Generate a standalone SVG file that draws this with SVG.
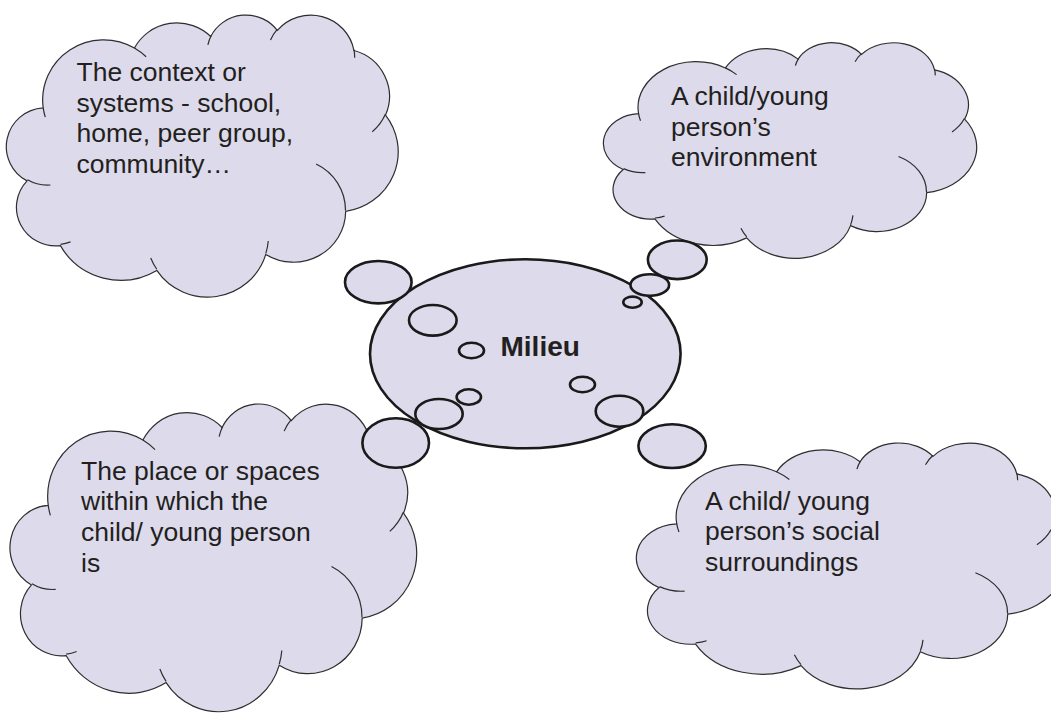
<svg xmlns="http://www.w3.org/2000/svg" xmlns:xlink="http://www.w3.org/1999/xlink" width="1051" height="713" viewBox="0 0 1051 713">
<style>
.cloud { fill:#dcdaeb; stroke:#2e2e2e; stroke-width:1.2; }
.crease { fill:none; stroke:#2e2e2e; stroke-width:1.2; }
.bub { fill:#dcdaeb; stroke:#1a1a1a; stroke-width:2.6; }
.txt { font-family:"Liberation Sans", Arial, Helvetica, sans-serif; font-size:26.5px; fill:#231f20; }
.title { font-family:"Liberation Sans", Arial, Helvetica, sans-serif; font-size:28px; font-weight:bold; fill:#231f20; }
</style>
<defs>
<path id="cloudOutline" vector-effect="non-scaling-stroke" d="M39 143.7 A67.53 91.9 0 0 1 140.05 52.02 A53.33 72.67 0 0 1 224.56 34.35 A43.65 59.45 0 0 1 298.33 24.83 A48.57 65.95 0 0 1 383.18 55.78 A53.33 72.73 0 0 1 418.18 154.61 A67.75 92.2 0 0 1 374.04 302.06 A57.85 78.67 0 0 1 285.55 368.16 A67.52 92.15 0 0 1 164.8 392.68 A77.2 105.43 0 0 1 58.03 354.71 A43.6 59.18 0 0 1 21.12 255.49 A43.45 59.45 0 0 1 39 143.7 Z"/>
<path id="cloudCreases" vector-effect="non-scaling-stroke" d="M46.93 261.77 A43.45 59.45 0 0 1 21.6 253.8 M69.28 348.99 A43.6 59.18 0 0 1 58.19 352.8 M164.78 390.9 A67.52 92.15 0 0 1 158.1 373.49 M288.27 347.51 A67.52 92.15 0 0 1 285.6 366.6 M341.29 229.54 A57.85 78.67 0 0 1 373.81 300.9 M417.98 153.54 A53.33 72.73 0 0 1 403.51 180.3 M383.24 54.26 A48.57 65.95 0 0 1 384 66.9 M290.78 39.52 A48.57 65.95 0 0 1 298.2 23.4 M221.41 47.2 A43.65 59.45 0 0 1 225.01 33.31 M140 51.92 A67.53 91.9 0 0 1 153.01 65.42 M41.27 157.89 A67.53 91.9 0 0 1 39 143.71"/>
</defs>

<g id="cloud-context">
<g transform="translate(8,14.1) scale(0.9028,0.6528)">
<use href="#cloudOutline" class="cloud"/>
<use href="#cloudCreases" class="crease"/>
</g>
<text class="txt"><tspan x="76.5" y="81">The context or</tspan><tspan x="76.5" y="111.5">systems - school,</tspan><tspan x="76.5" y="142">home, peer group,</tspan><tspan x="76.5" y="172.5">community…</tspan></text>
</g>

<g id="cloud-environment">
<g transform="translate(605,42) scale(0.86,0.4988)">
<use href="#cloudOutline" class="cloud"/>
<use href="#cloudCreases" class="crease"/>
</g>
<text class="txt"><tspan x="671" y="105">A child/young</tspan><tspan x="671" y="135.5">person’s</tspan><tspan x="671" y="166">environment</tspan></text>
</g>

<g id="cloud-place">
<g transform="translate(11.7,403) scale(0.937,0.712)">
<use href="#cloudOutline" class="cloud"/>
<use href="#cloudCreases" class="crease"/>
</g>
<text class="txt"><tspan x="81" y="479.5">The place or spaces</tspan><tspan x="81" y="510">within which the</tspan><tspan x="81" y="540.5">child/ young person</tspan><tspan x="81" y="571.5">is</tspan></text>
</g>

<g id="cloud-social">
<g transform="translate(638.2,442.2) scale(0.988,0.569)">
<use href="#cloudOutline" class="cloud"/>
<use href="#cloudCreases" class="crease"/>
</g>
<text class="txt"><tspan x="705" y="509.5">A child/ young</tspan><tspan x="705" y="540">person’s social</tspan><tspan x="705" y="570.5">surroundings</tspan></text>
</g>

<g id="node-milieu">
<ellipse class="bub" cx="525.3" cy="353.8" rx="155.3" ry="94.5"/>
<text class="title" x="500.5" y="356">Milieu</text>
</g>

<g id="connectors">
<ellipse class="bub" cx="378.3" cy="282.2" rx="33.3" ry="21.2"/>
<ellipse class="bub" cx="432.8" cy="320.3" rx="23.8" ry="15.3"/>
<ellipse class="bub" cx="471.5" cy="350.5" rx="12.5" ry="7.8"/>
<ellipse class="bub" cx="468.8" cy="397" rx="12.2" ry="7.7"/>
<ellipse class="bub" cx="439" cy="414" rx="23.7" ry="15"/>
<ellipse class="bub" cx="395.7" cy="443" rx="33.3" ry="24.7"/>
<ellipse class="bub" cx="582.5" cy="384.5" rx="12.5" ry="7.8"/>
<ellipse class="bub" cx="619.5" cy="411.2" rx="23.8" ry="15.5"/>
<ellipse class="bub" cx="672.1" cy="446.1" rx="33.7" ry="21.9"/>
<ellipse class="bub" cx="632.5" cy="302.2" rx="9.2" ry="5.6"/>
<ellipse class="bub" cx="649.8" cy="285.1" rx="19.3" ry="10.8"/>
<ellipse class="bub" cx="677.3" cy="259.8" rx="29.4" ry="19.3"/>
</g>
</svg>
